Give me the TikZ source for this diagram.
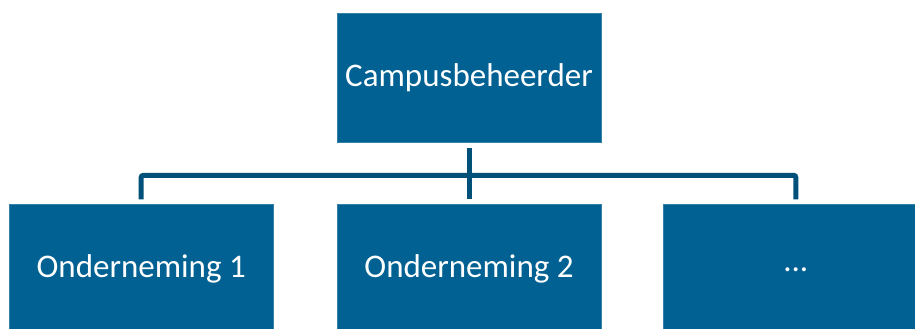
\documentclass[tikz,border=0pt]{standalone}
\usepackage{fontspec}
\setmainfont{Carlito}
\usetikzlibrary{positioning,calc}
\definecolor{boxblue}{RGB}{0, 97, 146}
\definecolor{lineblue}{RGB}{0, 80, 121}
\tikzset{
	orgbox/.style={draw=boxblue!80!white, line width=0.8pt, fill=boxblue, text=white,
		minimum width=264pt, minimum height=129pt, inner sep=0pt,
		font=\fontsize{33}{40}\selectfont},
	orgline/.style={draw=lineblue, line width=5pt, rounded corners=2pt},
}

\begin{document}
\begin{tikzpicture}[x=1pt,y=1pt]
	% page size as in the reference
	\useasboundingbox (0,0) rectangle (915,-329);

	% boxes
	\node[orgbox] (top) at (469,-77.5) {Campusbeheerder};
	\node[orgbox, below=62pt of top] (mid) {Onderneming 2};
	\node[orgbox, left=63pt of mid] (left) {Onderneming 1};
	\node[orgbox, right=62pt of mid] (right) {...};

	% connectors
	\coordinate (bus) at ($(top.south)+(0,-33)$);
	\draw[orgline] ([yshift=-6]top.south) -- ([yshift=5]mid.north);
	\draw[orgline] ([yshift=5]left.north) |- (bus) -| ([yshift=5]right.north);

\end{tikzpicture}
\end{document}
